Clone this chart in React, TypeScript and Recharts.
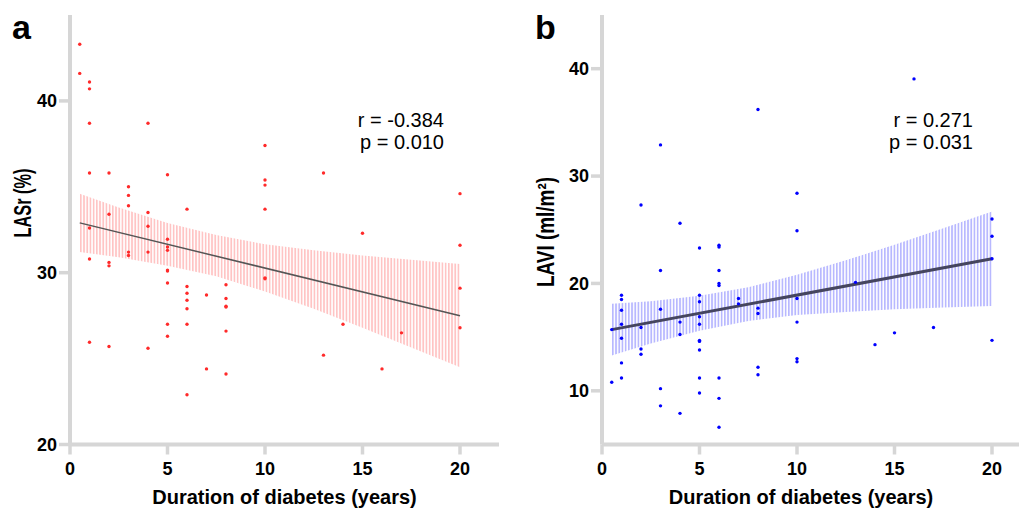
import React from 'react';
import { ComposedChart, Scatter, Line, Area, XAxis, YAxis } from 'recharts';

// ---------- Panel a: LASr ----------
const lasrDuration = [
  0.5, 0.5, 1, 1, 1, 4, 10, 1, 2, 5, 10, 10, 3, 3, 3, 6, 10, 2, 4, 1, 4, 13, 20,
  5, 5, 5, 3, 3, 4, 1, 2, 2, 5, 5, 10, 10, 5, 6, 8, 7, 6, 8, 6, 8, 8, 6, 5, 6, 8, 5,
  1, 2, 4, 7, 8, 6, 15, 20, 20, 14, 20, 17, 13, 16,
];
const lasrValues = [
  43.3, 41.6, 41.1, 40.7, 38.7, 38.7, 37.4, 35.8, 35.8, 35.7, 35.4, 35.1, 35.0, 34.5, 33.9, 33.7, 33.7, 33.4, 33.5, 32.6, 32.7, 35.8, 34.6,
  31.95, 31.5, 31.3, 31.2, 31.0, 31.2, 30.8, 30.6, 30.4, 30.15, 30.1, 29.7, 29.65, 29.4, 29.2, 29.3, 28.7, 28.8, 28.5, 28.4, 28.05, 28.0, 27.9, 27.0, 27.0, 26.6, 26.3,
  25.95, 25.7, 25.6, 24.4, 24.1, 22.9, 32.3, 31.6, 29.1, 27.0, 26.8, 26.5, 25.2, 24.4,
];
const lasrFitX = [0.5, 20];
const lasrFitY = [32.9, 27.5];
const lasrBandX = [0.5, 2.5, 5, 7.5, 10, 12.5, 15, 17.5, 20];
const lasrBandLow = [31.2, 30.9, 30.4, 29.8, 28.9, 27.9, 26.8, 25.65, 24.5];
const lasrBandHigh = [34.6, 33.8, 32.9, 32.2, 31.65, 31.3, 31.0, 30.75, 30.5];
const lasrTicks = [20, 30, 40];

// ---------- Panel b: LAVI ----------
const laviDuration = [
  8, 3, 2, 10, 4, 16, 20, 10, 5, 6, 6, 3, 6, 6, 6, 1, 1, 5, 5, 7, 7, 10, 8, 8, 3, 1,
  0.5, 1, 2, 4, 5, 5, 10, 4, 1, 5, 5, 2, 5, 2, 10, 10, 8, 8, 1, 1, 0.5, 5, 6, 3, 5, 6,
  3, 4, 6, 20, 20, 13, 15, 17, 14, 20,
];
const laviValues = [
  36.2, 32.9, 27.3, 28.4, 25.6, 39.05, 26.0, 24.9, 23.3, 23.55, 23.4, 21.2, 21.2, 20.0, 19.8, 18.9, 18.5, 18.9, 18.3, 18.6, 18.1, 18.6, 17.7, 17.2, 17.6, 17.5,
  15.7, 16.2, 15.9, 16.4, 16.9, 16.2, 16.4, 15.25, 14.9, 14.7, 14.6, 13.9, 13.8, 13.4, 13.0, 12.7, 12.2, 11.5, 12.6, 11.2, 10.8, 11.2, 11.2, 10.2, 9.8, 9.3,
  8.6, 7.9, 6.6, 24.4, 22.3, 20.1, 15.4, 15.9, 14.3, 14.7,
];
const laviFitX = [0.5, 20];
const laviFitY = [15.7, 22.3];
const laviBandX = [0.5, 2.5, 5, 7.5, 10, 12.5, 15, 17.5, 20];
const laviBandLow = [13.3, 14.4, 15.6, 16.5, 17.05, 17.35, 17.6, 17.75, 17.9];
const laviBandHigh = [18.1, 18.35, 18.85, 19.65, 20.8, 22.15, 23.6, 25.15, 26.7];
const laviTicks = [10, 20, 30, 40];

const xTicks = [0, 5, 10, 15, 20];

const FONT = '"Liberation Sans", Arial, Helvetica, sans-serif';
const AXIS_GREY = '#d6d6d6';

const zip = (xs: number[], ys: number[]) => xs.map((x, i) => ({ x, y: ys[i] }));
const bandRows = (xs: number[], lo: number[], hi: number[]) =>
  xs.map((x, i) => ({ x, band: [lo[i], hi[i]] }));

const tickStyle = { fontSize: 18, fontWeight: 700, fill: '#000', fontFamily: FONT };

const dotShape = (color: string) => (props: any) =>
  props.cx == null ? <g /> : <circle cx={props.cx} cy={props.cy} r={1.7} fill={color} />;

interface PanelProps {
  pts: { x: number; y: number }[];
  fit: { x: number; y: number }[];
  band: { x: number; band: number[] }[];
  yDomain: [number, number];
  yTicks: number[];
  dotColor: string;
  hatchColor: string;
  hatchId: string;
  lineColor: string;
  lineWidth: number;
  letter: string;
  letterX: number;
  yLabel: React.ReactNode;
  yLabelX: number;
  yLabelY: number;
  yLabelLen: number;
  xTitleX: number;
  statX: number;
  rText: string;
  pText: string;
}

function Panel(p: PanelProps) {
  return (
    <ComposedChart
      width={510}
      height={510}
      margin={{ top: 15, right: 11, bottom: 35.5, left: 0 }}
      style={{ fontFamily: FONT }}
    >
      <defs>
        <pattern id={p.hatchId} width={3.2} height={8} patternUnits="userSpaceOnUse">
          <rect x={0} y={0} width={1.7} height={8} fill={p.hatchColor} />
        </pattern>
      </defs>
      <XAxis
        type="number"
        dataKey="x"
        domain={[0, 22]}
        ticks={xTicks}
        allowDataOverflow
        height={30}
        axisLine={{ stroke: AXIS_GREY, strokeWidth: 4 }}
        tickLine={{ stroke: AXIS_GREY, strokeWidth: 3.5 }}
        tickSize={10}
        tickMargin={8}
        tick={tickStyle}
      />
      <YAxis
        type="number"
        domain={p.yDomain}
        ticks={p.yTicks}
        allowDataOverflow
        width={70}
        axisLine={{ stroke: AXIS_GREY, strokeWidth: 4 }}
        tickLine={{ stroke: AXIS_GREY, strokeWidth: 3.5 }}
        tickSize={11}
        tickMargin={2}
        tick={tickStyle}
      />
      <Area
        data={p.band}
        dataKey="band"
        type="linear"
        stroke="none"
        fill={`url(#${p.hatchId})`}
        fillOpacity={1}
        isAnimationActive={false}
        dot={false}
        activeDot={false}
      />
      <Line
        data={p.fit}
        dataKey="y"
        type="linear"
        stroke={p.lineColor}
        strokeWidth={p.lineWidth}
        dot={false}
        activeDot={false}
        isAnimationActive={false}
      />
      <Scatter data={p.pts} dataKey="y" shape={dotShape(p.dotColor)} isAnimationActive={false} />
      <text x={p.letterX} y={39} fontSize={34} fontWeight={700} fill="#000" fontFamily={FONT}>
        {p.letter}
      </text>
      <text
        x={p.yLabelX}
        y={p.yLabelY}
        transform={`rotate(-90 ${p.yLabelX} ${p.yLabelY})`}
        textAnchor="middle"
        fontSize={23}
        fontWeight={700}
        fill="#000"
        fontFamily={FONT}
        textLength={p.yLabelLen}
        lengthAdjust="spacingAndGlyphs"
      >
        {p.yLabel}
      </text>
      <text x={p.xTitleX} y={504} textAnchor="middle" fontSize={20} fontWeight={700} fill="#000" fontFamily={FONT}>
        Duration of diabetes (years)
      </text>
      <text x={p.statX} y={127} textAnchor="end" fontSize={20} fill="#000" fontFamily={FONT}>
        {p.rText}
      </text>
      <text x={p.statX} y={149} textAnchor="end" fontSize={20} fill="#000" fontFamily={FONT}>
        {p.pText}
      </text>
    </ComposedChart>
  );
}

export default function App() {
  return (
    <div
      style={{
        position: 'fixed',
        left: 0,
        top: 0,
        width: 1019,
        height: 510,
        overflow: 'hidden',
        background: '#fff',
      }}
    >
      <div style={{ position: 'absolute', left: 0, top: 0 }}>
        <Panel
          pts={zip(lasrDuration, lasrValues)}
          fit={zip(lasrFitX, lasrFitY)}
          band={bandRows(lasrBandX, lasrBandLow, lasrBandHigh)}
          yDomain={[20, 45]}
          yTicks={lasrTicks}
          dotColor="#ff2a2a"
          hatchColor="#ffc4c4"
          hatchId="hatchA"
          lineColor="#555555"
          lineWidth={1.5}
          letter="a"
          letterX={12}
          yLabel="LASr (%)"
          yLabelX={31}
          yLabelY={203}
          yLabelLen={69}
          xTitleX={284.5}
          statX={444}
          rText="r = -0.384"
          pText="p = 0.010"
        />
      </div>
      <div style={{ position: 'absolute', left: 532, top: 0 }}>
        <Panel
          pts={zip(laviDuration, laviValues)}
          fit={zip(laviFitX, laviFitY)}
          band={bandRows(laviBandX, laviBandLow, laviBandHigh)}
          yDomain={[5, 45]}
          yTicks={laviTicks}
          dotColor="#0000ff"
          hatchColor="#b8b8ff"
          hatchId="hatchB"
          lineColor="#45455f"
          lineWidth={3}
          letter="b"
          letterX={3}
          yLabel="LAVI (ml/m²)"
          yLabelX={22}
          yLabelY={232}
          yLabelLen={110}
          xTitleX={269}
          statX={441}
          rText="r = 0.271"
          pText="p = 0.031"
        />
      </div>
    </div>
  );
}
